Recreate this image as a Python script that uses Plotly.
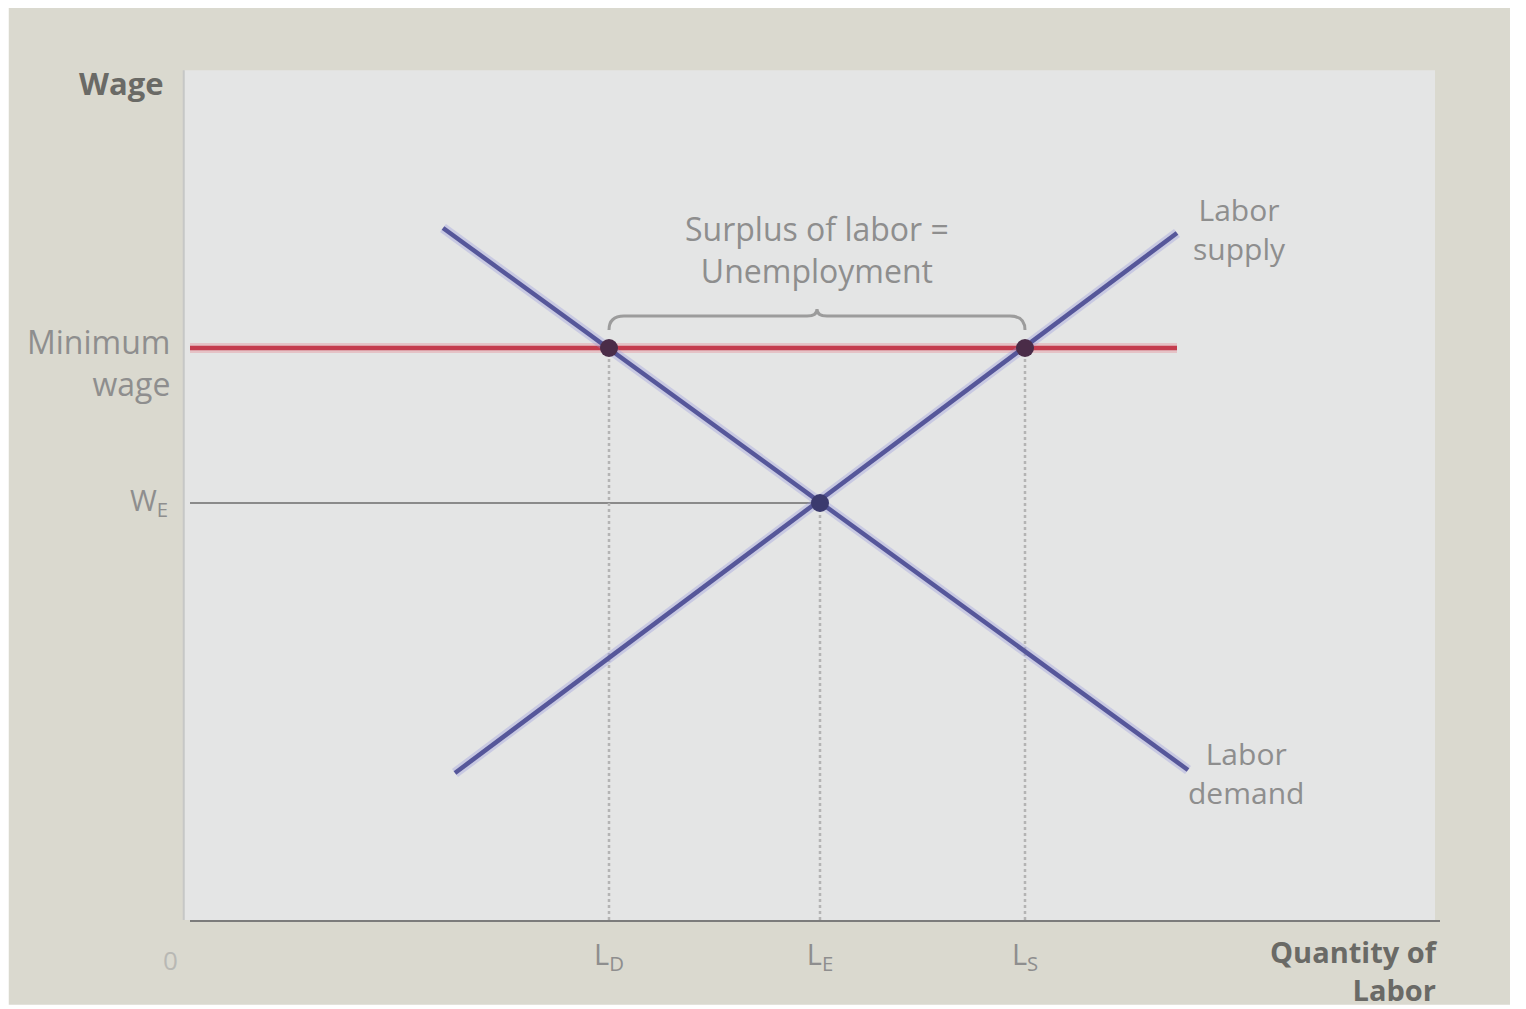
import plotly.graph_objects as go

# ---- data (economic units) ----
demand_x = [2.53, 9.98]
demand_y = [6.92, 1.50]
supply_x = [2.65, 9.87]
supply_y = [1.47, 6.87]
min_wage = 5.72
min_wage_end = 9.87
w_e = 4.17
q_labels = ["L<sub>D</sub>", "L<sub>E</sub>", "L<sub>S</sub>"]
q_values = [4.19, 6.30, 8.35]      # L_D, L_E, L_S
point_x = [4.19, 8.35, 6.30]
point_y = [5.72, 5.72, 4.17]
point_colors = ["#4a2c48", "#4a2c48", "#3b3a6e"]

X_MAX = 12.5
Y_MAX = 8.48

LINE_BLUE = "#56579a"
RED = "#c43c4e"
GREY_TXT = "#8e8e8e"
DARK_TXT = "#6a6a66"
FONT = "Open Sans, Liberation Sans, Arial, sans-serif"

fig = go.Figure()

# minimum wage line
fig.add_trace(go.Scatter(x=[0, min_wage_end], y=[min_wage, min_wage], mode="lines",
                         line=dict(color="rgba(230,150,160,0.45)", width=10),
                         hoverinfo="skip", showlegend=False))
fig.add_trace(go.Scatter(x=[0, min_wage_end], y=[min_wage, min_wage], mode="lines",
                         line=dict(color=RED, width=4.5), showlegend=False))
# W_E line
fig.add_trace(go.Scatter(x=[0, q_values[1]], y=[w_e, w_e], mode="lines",
                         line=dict(color="#8a8a8a", width=2), showlegend=False))
# dotted verticals
for qx, qy in zip(point_x, point_y):
    fig.add_trace(go.Scatter(x=[qx, qx], y=[0, qy], mode="lines",
                             line=dict(color="#b4b4b4", width=2.5, dash="dot"),
                             showlegend=False))
# demand and supply
for xs, ys in ((demand_x, demand_y), (supply_x, supply_y)):
    fig.add_trace(go.Scatter(x=xs, y=ys, mode="lines",
                             line=dict(color="rgba(150,150,220,0.35)", width=10),
                             hoverinfo="skip", showlegend=False))
    fig.add_trace(go.Scatter(x=xs, y=ys, mode="lines",
                             line=dict(color=LINE_BLUE, width=4.5), showlegend=False))
# points
fig.add_trace(go.Scatter(x=point_x, y=point_y, mode="markers",
                         marker=dict(color=point_colors, size=18), showlegend=False))

# ---- background: white page, beige photo, light plot panel ----
shapes = [
    dict(type="rect", xref="paper", yref="paper", x0=-0.145, x1=1.056, y0=-0.100, y1=1.0755,
         fillcolor="#dad9cf", line=dict(width=0), layer="below"),
    dict(type="rect", xref="paper", yref="paper", x0=-0.005, x1=0.996, y0=0.0, y1=1.002,
         fillcolor="#e4e5e5", line=dict(width=0), layer="below"),
    dict(type="line", xref="paper", yref="paper", x0=-0.005, x1=-0.005, y0=0.0, y1=1.002,
         line=dict(color="#c6c7c6", width=2), layer="below"),
]

# brace over the surplus
bx0, bx1 = q_values[0], q_values[2]
bm = (bx0 + bx1) / 2
by = min_wage + 0.32
bend = min_wage + 0.18
bpk = min_wage + 0.39
brace = (f"M {bx0},{bend} Q {bx0},{by} {bx0+0.15},{by} L {bm-0.1},{by} "
         f"Q {bm},{by} {bm},{bpk} Q {bm},{by} {bm+0.1},{by} "
         f"L {bx1-0.15},{by} Q {bx1},{by} {bx1},{bend}")
shapes.append(dict(type="path", xref="x", yref="y", path=brace,
                   line=dict(color="#9c9c9c", width=3)))

annotations = [
    dict(x=0, y=Y_MAX, xref="x", yref="y", text="<b>Wage</b>", showarrow=False,
         xanchor="right", yanchor="middle", xshift=-24, yshift=-11,
         font=dict(family=FONT, size=31, color=DARK_TXT)),
    dict(x=0, y=min_wage, xref="x", yref="y", text="Minimum<br>wage", showarrow=False,
         xanchor="right", yanchor="middle", xshift=-18, yshift=-14, align="right",
         font=dict(family=FONT, size=32, color=GREY_TXT)),
    dict(x=0, y=w_e, xref="x", yref="y", text="W<sub>E</sub>", showarrow=False,
         xanchor="right", yanchor="middle", xshift=-20, yshift=2,
         font=dict(family=FONT, size=29, color=GREY_TXT)),
    dict(x=0, y=0, xref="x", yref="y", text="0", showarrow=False,
         xanchor="center", yanchor="middle", xshift=-20, yshift=-40,
         font=dict(family=FONT, size=26, color="#b8b8b4")),
    dict(x=X_MAX, y=0, xref="x", yref="y", text="<b>Quantity of<br>Labor</b>", showarrow=False,
         xanchor="right", yanchor="top", yshift=-10, align="right",
         font=dict(family=FONT, size=29, color=DARK_TXT)),
    dict(x=bm, y=by, xref="x", yref="y", text="Surplus of labor =<br>Unemployment",
         showarrow=False, xanchor="center", yanchor="bottom", yshift=22, align="center",
         font=dict(family=FONT, size=32, color=GREY_TXT)),
    dict(x=supply_x[1], y=supply_y[1], xref="x", yref="y", text="Labor<br>supply",
         showarrow=False, xanchor="left", yanchor="middle", xshift=14, yshift=4, align="center",
         font=dict(family=FONT, size=30, color=GREY_TXT)),
    dict(x=demand_x[1], y=demand_y[1], xref="x", yref="y", text="Labor<br>demand",
         showarrow=False, xanchor="left", yanchor="middle", xshift=-2, yshift=-3, align="center",
         font=dict(family=FONT, size=30, color=GREY_TXT)),
]

fig.update_layout(
    width=1518, height=1001,
    margin=dict(l=182, r=86, t=64, b=89),
    paper_bgcolor="white", plot_bgcolor="rgba(0,0,0,0)",
    shapes=shapes, annotations=annotations,
    xaxis=dict(range=[0, X_MAX], showgrid=False, zeroline=False,
               showline=True, linecolor="#7c7c7c", linewidth=2,
               tickvals=q_values, ticktext=q_labels, ticks="",
               ticklabelstandoff=8,
               tickfont=dict(family=FONT, size=29, color=GREY_TXT)),
    yaxis=dict(range=[0, Y_MAX], showgrid=False, zeroline=False,
               showline=False, showticklabels=False, ticks=""),
)

fig.write_html("out.html")
